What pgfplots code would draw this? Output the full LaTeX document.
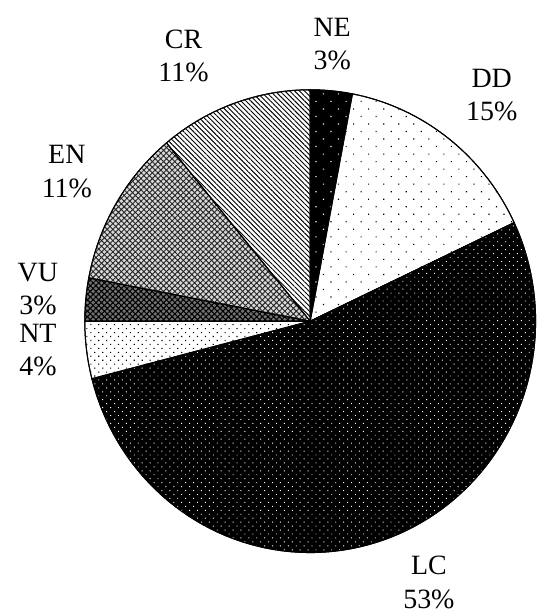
\documentclass[border=0pt]{standalone}
\usepackage{pgfplots}
\pgfplotsset{compat=1.18}
\usepackage{pgfplotstable}
\usetikzlibrary{patterns.meta}
\usepackage{fontspec}
\setmainfont{Liberation Serif}

\pgfplotstableread{
name value
NE 3
DD 15
LC 53
NT 4
VU 3
EN 11
CR 11
}\piedata

\tikzset{
  slicebase/.style={draw=black, line width=0.75pt},
  slice0/.style={slicebase, fill=black, postaction={pattern={Dots[distance=8pt, radius=0.6pt, angle=45]}, pattern color=white}},
  slice1/.style={slicebase, fill=white, postaction={pattern={Dots[distance=8pt, radius=0.6pt, angle=45]}, pattern color=black}},
  slice2/.style={slicebase, fill=black, postaction={pattern={Dots[distance=4.2pt, radius=0.5pt, angle=45]}, pattern color=white}},
  slice3/.style={slicebase, fill=white, postaction={pattern={Dots[distance=4.2pt, radius=0.6pt, angle=45]}, pattern color=black}},
  slice4/.style={slicebase, fill=black!55, postaction={pattern={Hatch[distance=3pt, angle=45, line width=0.8pt]}, pattern color=black}},
  slice5/.style={slicebase, fill=black!15, postaction={pattern={Hatch[distance=3pt, angle=45, line width=0.7pt]}, pattern color=black!85}},
  slice6/.style={slicebase, fill=white, postaction={pattern={Lines[distance=2.6pt, angle=-45, line width=0.7pt]}, pattern color=black}},
}

\begin{document}
\begin{tikzpicture}
\begin{axis}[
  scale only axis, width=403.5pt, height=459.75pt,
  xmin=0, xmax=538, ymin=0, ymax=613,
  hide axis, clip=false,
]
\path (0,0) rectangle (538,613);
\def\cum{0}
\pgfplotsforeachungrouped \i in {0,...,6}{
  \pgfplotstablegetelem{\i}{value}\of\piedata
  \let\val\pgfplotsretval
  \pgfmathsetmacro\a{90-3.6*(\cum+\val)}
  \pgfmathsetmacro\b{90-3.6*\cum}
  \pgfmathsetmacro\cum{\cum+\val}
  \edef\tmp{\noexpand\addplot[slice\i, domain=\a:\b, samples=90] ({311+226*cos(x)},{291+232*sin(x)}) -- (311,291) -- cycle;}
  \tmp
}
\tikzset{every node/.style={align=center, font=\fontsize{21}{25}\selectfont}}
\node at (333,569) {NE\\3\%};
\node at (493,518) {DD\\15\%};
\node at (430,29) {LC\\53\%};
\node at (38,262) {NT\\4\%};
\node at (38,323) {VU\\3\%};
\node at (67,441) {EN\\11\%};
\node at (184,557) {CR\\11\%};
\end{axis}
\end{tikzpicture}
\end{document}
